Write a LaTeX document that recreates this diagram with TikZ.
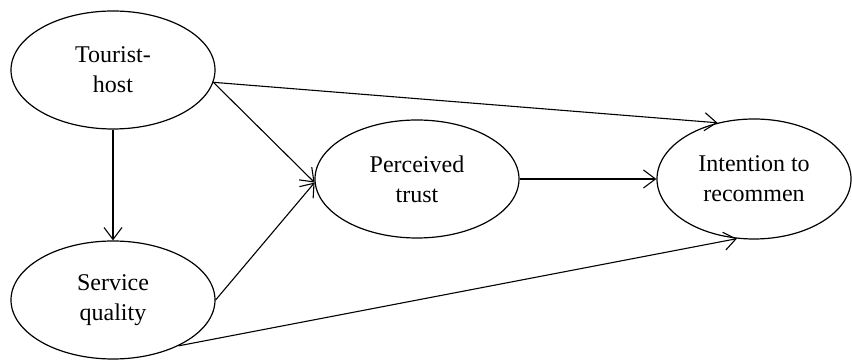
\documentclass[tikz,border=0pt]{standalone}
\usepackage{fontspec}
\setmainfont{Liberation Serif}
\usepackage{tikz}
\usetikzlibrary{shapes.geometric, arrows.meta, positioning}

\tikzset{
  construct/.style={draw, ellipse, line width=0.6pt, align=center, inner sep=0pt,
    minimum width=102pt, minimum height=59pt, font=\fontsize{12}{15}\selectfont},
  link/.style={line width=0.55pt, -{Straight Barb[length=6pt, width=9pt, line width=0.55pt]}}
}

\begin{document}
\begin{tikzpicture}[x=0.5pt, y=-0.5pt]
  \useasboundingbox (0,0) rectangle (852,362);

  % Constructs
  \node[construct] (host) at (113, 70) {Tourist-\\host};
  \node[construct] (service) at (113, 300) {Service\\quality};
  \node[construct] (trust) at (417, 179) {Perceived\\trust};
  \node[construct, minimum width=97pt, minimum height=60pt] (intent) at (754, 179) {Intention to\\recommen};

  % Paths
  \draw[link] (host.south) -- (service.north);
  \draw[link] (host.-7) -- (trust.182);
  \draw[link] (service.east) -- (trust.182);
  \draw[link] (host.-7) -- (intent.123);
  \draw[link] (trust.east) -- (intent.west);
  \draw[link] (service.-35) -- (intent.-106);
\end{tikzpicture}
\end{document}
